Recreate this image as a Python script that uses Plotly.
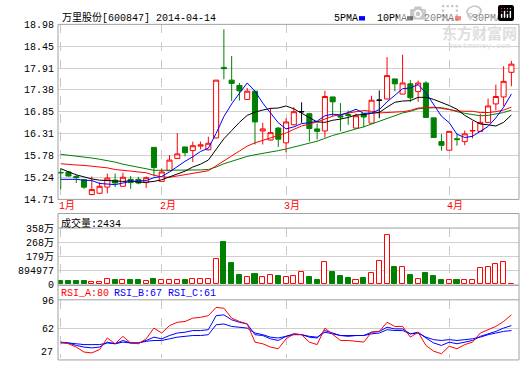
import plotly.graph_objects as go

W, H = 520, 365

# ---------------- data ----------------
idx = list(range(59))
month_idx = [0, 13, 29, 50]
month_lbl = ["1月", "2月", "3月", "4月"]

opens = [15.37, 15.38, 15.27, 15.19, 14.83, 14.86, 15.01, 15.18, 15.03, 15.20,
         15.20, 15.12, 15.98, 15.15, 15.41, 15.71, 15.99, 15.90, 16.01, 15.92,
         16.21, 17.93, 17.62, 17.49, 17.15, 17.35, 16.38, 16.16, 16.45, 16.09,
         16.53, 16.85, 16.80, 16.43, 16.38, 17.21, 16.75, 16.78, 16.45, 16.80,
         16.57, 17.13, 17.16, 17.65, 17.28, 17.53, 17.34, 17.55, 16.70, 16.12,
         15.91, 16.19, 16.12, 16.38, 16.37, 16.59, 17.04, 17.21, 17.81]
highs = [15.46, 15.40, 15.31, 15.21, 15.27, 15.13, 15.34, 15.34, 15.36, 15.28,
         15.26, 15.27, 15.98, 15.46, 15.79, 16.33, 15.99, 16.12, 16.12, 16.24,
         17.62, 18.86, 18.21, 17.55, 17.43, 17.36, 16.58, 16.94, 16.48, 16.69,
         16.96, 17.08, 16.82, 16.56, 17.36, 17.21, 17.06, 16.88, 16.80, 16.80,
         17.24, 17.37, 18.18, 17.65, 18.24, 17.62, 17.61, 17.59, 16.70, 16.31,
         16.37, 16.31, 16.39, 16.62, 16.80, 17.17, 17.51, 17.96, 18.09]
lows = [14.96, 15.27, 15.11, 14.97, 14.81, 14.85, 14.86, 15.01, 15.03, 14.97,
        15.08, 14.99, 15.27, 15.14, 15.41, 15.71, 15.76, 15.62, 15.93, 15.91,
        16.20, 17.64, 17.11, 17.12, 17.14, 16.05, 16.05, 16.15, 15.99, 15.86,
        16.52, 16.58, 16.12, 16.17, 16.22, 16.73, 16.37, 16.53, 16.44, 16.47,
        16.57, 16.69, 17.15, 17.35, 17.27, 17.09, 17.09, 16.70, 16.22, 15.90,
        15.90, 16.02, 16.03, 16.20, 16.36, 16.58, 16.88, 16.99, 17.47]
closes = [15.36, 15.28, 15.24, 15.01, 14.95, 15.03, 15.23, 15.11, 15.25, 15.12,
          15.11, 15.24, 15.49, 15.38, 15.67, 15.82, 15.85, 16.02, 16.04, 16.08,
          17.62, 17.90, 17.54, 17.36, 17.35, 16.60, 16.43, 16.34, 16.18, 16.60,
          16.85, 16.85, 16.44, 16.37, 17.22, 17.09, 16.72, 16.76, 16.75, 16.72,
          17.13, 17.13, 17.73, 17.53, 17.55, 17.19, 17.55, 16.71, 16.22, 16.03,
          16.37, 16.17, 16.31, 16.39, 16.59, 16.99, 17.22, 17.59, 18.01]
# r = up (red hollow), g = down (green), k = unchanged (black)
kind = list("ggggrrrgrggrgrrrgrrrrgggrgrrgrrkggrgggrgrkrgrgrgggrgrrrrrrr")

ma5 = [15.20, 15.20, 15.20, 15.18, 15.17, 15.10, 15.09, 15.07, 15.11, 15.15,
       15.16, 15.17, 15.24, 15.27, 15.38, 15.52, 15.64, 15.75, 15.88, 15.96,
       16.32, 16.73, 17.04, 17.30, 17.55, 17.35, 17.06, 16.82, 16.58, 16.43,
       16.48, 16.56, 16.58, 16.62, 16.75, 16.79, 16.77, 16.83, 16.91, 16.81,
       16.82, 16.90, 17.09, 17.25, 17.41, 17.43, 17.51, 17.31, 17.04, 16.74,
       16.58, 16.30, 16.22, 16.25, 16.37, 16.49, 16.70, 16.96, 17.28]
ma10 = [15.46, 15.38, 15.31, 15.26, 15.21, 15.18, 15.17, 15.16, 15.15, 15.16,
        15.13, 15.13, 15.15, 15.19, 15.26, 15.34, 15.40, 15.50, 15.57, 15.67,
        15.92, 16.19, 16.39, 16.59, 16.76, 16.84, 16.89, 16.93, 16.94, 16.99,
        16.92, 16.81, 16.70, 16.60, 16.59, 16.64, 16.67, 16.71, 16.77, 16.78,
        16.81, 16.83, 16.96, 17.08, 17.11, 17.12, 17.20, 17.20, 17.15, 17.08,
        17.00, 16.91, 16.76, 16.65, 16.55, 16.53, 16.50, 16.59, 16.77]
ma20 = [15.58, 15.56, 15.55, 15.54, 15.52, 15.50, 15.48, 15.44, 15.42, 15.40,
        15.38, 15.36, 15.30, 15.26, 15.25, 15.28, 15.31, 15.34, 15.38, 15.41,
        15.53, 15.66, 15.77, 15.89, 16.01, 16.09, 16.15, 16.21, 16.26, 16.33,
        16.42, 16.50, 16.55, 16.60, 16.67, 16.74, 16.78, 16.82, 16.85, 16.88,
        16.86, 16.82, 16.83, 16.84, 16.85, 16.88, 16.94, 16.95, 16.96, 16.93,
        16.90, 16.87, 16.86, 16.86, 16.83, 16.83, 16.85, 16.89, 16.96]
ma30 = [15.81, 15.79, 15.77, 15.75, 15.72, 15.69, 15.66, 15.62, 15.57, 15.53,
        15.49, 15.45, 15.42, 15.42, 15.42, 15.42, 15.43, 15.43, 15.43, 15.44,
        15.50, 15.58, 15.64, 15.70, 15.76, 15.80, 15.83, 15.86, 15.90, 15.94,
        15.99, 16.04, 16.08, 16.13, 16.20, 16.27, 16.32, 16.38, 16.43, 16.48,
        16.55, 16.61, 16.68, 16.76, 16.82, 16.86, 16.92, 16.94, 16.95, 16.95,
        16.91, 16.85, 16.81, 16.78, 16.75, 16.76, 16.79, 16.83, 16.89]

volume = [200000, 200000, 200000, 200000, 160000, 160000, 320000, 260000, 290000, 240000,
          240000, 200000, 350000, 240000, 300000, 300000, 260000, 360000, 320000, 320000,
          1620000, 2670000, 1350000, 610000, 440000, 670000, 440000, 610000, 500000, 470000,
          550000, 810000, 440000, 300000, 1410000, 750000, 500000, 380000, 300000, 380000,
          710000, 1460000, 3140000, 1090000, 1090000, 610000, 330000, 730000, 500000, 300000,
          240000, 240000, 240000, 240000, 1010000, 1090000, 1270000, 1400000, 2434]

rsi_a = [46, 44, 40, 34, 33, 37, 51, 44, 53, 45, 44, 50, 63, 57, 66, 70, 71, 75, 76, 78,
         88, 87, 75, 71, 68, 46, 44, 40, 38, 50, 56, 55, 46, 43, 63, 55, 48, 48, 47, 46,
         58, 59, 70, 65, 65, 52, 58, 42, 35, 32, 41, 38, 43, 46, 57, 61, 65, 71, 79]
rsi_b = [46, 45, 42, 40, 39, 40, 46, 44, 48, 45, 45, 48, 52, 50, 54, 57, 58, 60, 60, 61,
         78, 79, 73, 70, 68, 55, 54, 50, 48, 53, 56, 55, 52, 51, 60, 57, 54, 53, 54, 54,
         58, 59, 64, 62, 62, 56, 58, 51, 45, 42, 46, 44, 46, 48, 53, 56, 59, 63, 66]
rsi_c = [45, 45, 44, 43, 43, 43, 45, 44, 46, 45, 45, 47, 48, 48, 50, 52, 53, 54, 54, 55,
         67, 68, 65, 64, 63, 57, 55, 52, 51, 53, 55, 55, 53, 52, 58, 56, 54, 54, 54, 54,
         56, 57, 61, 60, 60, 56, 57, 52, 49, 48, 49, 48, 49, 50, 52, 55, 57, 59, 60]

price_ticks = [14.71, 15.24, 15.78, 16.31, 16.85, 17.38, 17.91, 18.45, 18.98]
vol_ticks = [0, 894977, 1789954, 2684931, 3579908]
vol_tick_text = ["0", "894977", "179万", "268万", "358万"]
rsi_ticks = [62, 96]

title_text = "万里股份[600847] 2014-04-14"
vol_title = "成交量:2434"
rsi_titles = ["RSI_A:80", "RSI_B:67", "RSI_C:61"]
ma_names = ["5PMA", "10PMA", "20PMA", "30PMA"]

# ---------------- styling ----------------
RED = "#ff0000"
GREEN = "#008000"
BLUE = "#0000ff"
BLACK = "#000000"
GRID = "#d0d0d0"
FRAME = "#a0a0a0"
FONT = "Liberation Mono, Noto Sans CJK SC, monospace"


def px(x):
    return x / W


def py(y):
    return 1 - y / H


LEFT, RIGHT = 58, 519
XR = [-0.35, 58.98]

fig = go.Figure()


def pick(lst, sel):
    return [lst[i] for i in sel]


groups = {
    "r": (RED, "white"),
    "g": (GREEN, GREEN),
    "k": (BLACK, BLACK),
}
for key, (lc, fc) in groups.items():
    sel = [i for i, k in enumerate(kind) if k == key]
    fig.add_trace(go.Candlestick(
        x=pick(idx, sel), open=pick(opens, sel), high=pick(highs, sel),
        low=pick(lows, sel), close=pick(closes, sel),
        increasing=dict(line=dict(color=lc, width=1), fillcolor=fc),
        decreasing=dict(line=dict(color=lc, width=1), fillcolor=fc),
        whiskerwidth=0, xaxis="x", yaxis="y", hoverinfo="skip"))

for vals, col in [(ma30, GREEN), (ma20, RED), (ma10, BLACK), (ma5, BLUE)]:
    fig.add_trace(go.Scatter(x=idx, y=vals, mode="lines",
                             line=dict(color=col, width=1),
                             xaxis="x", yaxis="y", hoverinfo="skip"))

vol_fill = [GREEN if k == "g" else "white" for k in kind]
vol_line = [GREEN if k == "g" else RED for k in kind]
fig.add_trace(go.Bar(x=idx, y=volume, width=0.65,
                     marker=dict(color=vol_fill, line=dict(color=vol_line, width=1)),
                     xaxis="x2", yaxis="y2", hoverinfo="skip"))

for vals, col in [(rsi_c, BLUE), (rsi_b, BLUE), (rsi_a, RED)]:
    fig.add_trace(go.Scatter(x=idx, y=vals, mode="lines",
                             line=dict(color=col, width=1),
                             xaxis="x3", yaxis="y3", hoverinfo="skip"))

xcommon = dict(range=XR, domain=[px(LEFT), px(RIGHT)], tickvals=month_idx,
               showticklabels=False, showgrid=True, gridcolor="#c8c8c8",
               griddash="dash", gridwidth=1, zeroline=False, showline=False,
               ticks="", fixedrange=True)
ycommon = dict(showgrid=True, gridcolor=GRID, gridwidth=1, zeroline=False,
               showline=False, ticks="", fixedrange=True,
               tickfont=dict(family=FONT, size=10, color="black"),
               ticklabelstandoff=3)

fig.update_layout(
    width=W, height=H, margin=dict(l=0, r=0, t=0, b=0),
    paper_bgcolor="white", plot_bgcolor="white", showlegend=False,
    boxgap=0.35, boxgroupgap=0.0, bargap=0,
    xaxis=dict(xcommon, anchor="y", rangeslider=dict(visible=False)),
    xaxis2=dict(xcommon, anchor="y2"),
    xaxis3=dict(xcommon, anchor="y3"),
    yaxis=dict(ycommon, domain=[py(201.5), py(21)], range=[14.71, 18.98],
               tickvals=price_ticks, ticktext=["%.2f" % v for v in price_ticks]),
    yaxis2=dict(ycommon, domain=[py(289), py(231)], range=[0, 3579908],
                tickvals=vol_ticks, ticktext=vol_tick_text),
    yaxis3=dict(ycommon, domain=[0, py(305)], range=[26.8, 97.2],
                tickvals=rsi_ticks, ticktext=[str(v) for v in rsi_ticks]),
)

shapes = []


def rect(x0, y0, x1, y1, color=FRAME):
    shapes.append(dict(type="rect", xref="paper", yref="paper",
                       x0=px(x0), x1=px(x1), y0=py(y1), y1=py(y0),
                       line=dict(color=color, width=1), fillcolor="rgba(0,0,0,0)"))


def hline(y, x0=LEFT, x1=RIGHT, color=FRAME):
    shapes.append(dict(type="line", xref="paper", yref="paper",
                       x0=px(x0), x1=px(x1), y0=py(y), y1=py(y),
                       line=dict(color=color, width=1)))


rect(LEFT, 21, RIGHT, 201.5)
rect(LEFT, 216, RIGHT, 290)
rect(LEFT, 290, RIGHT, 367)
hline(231)
hline(305)

# legend swatches
sw = [(359, BLUE), (407, BLACK), (455, RED), (503, GREEN)]
for x0, col in sw:
    shapes.append(dict(type="rect", xref="paper", yref="paper",
                       x0=px(x0), x1=px(x0 + 6), y0=py(17), y1=py(12.5),
                       line=dict(width=0), fillcolor=col))
fig.update_layout(shapes=shapes)

ann = []


def text(x, y, s, color="black", size=10, anchor="left", **kw):
    ann.append(dict(x=px(x), y=py(y), xref="paper", yref="paper", text=s,
                    showarrow=False, xanchor=anchor, yanchor="middle",
                    font=dict(family=FONT, size=size, color=color), **kw))


# watermark first (drawn beneath other texts)
text(479, 31, "<b>东方财富网</b>", color="#dedede", size=15, anchor="center")
text(479, 43, "eastmoney.com", color="#dedede", size=8, anchor="center")

text(60, 14, title_text)
for x0, name in zip([332, 375, 422, 470], ma_names):
    text(x0, 14.5, name)
text(59, 226, vol_title)
for x0, s, c in zip([59, 112, 166], rsi_titles, [RED, BLUE, BLUE]):
    text(x0, 299, s, color=c)
text(55, 359, "27", anchor="right")

for m, lbl in zip(month_idx, month_lbl):
    ann.append(dict(x=m, y=py(208), xref="x", yref="paper", text=lbl,
                    showarrow=False, xanchor="left", yanchor="middle", xshift=-4,
                    font=dict(family=FONT, size=10, color=RED)))

fig.update_layout(annotations=ann)

fig.write_html("out.html",
               post_script="document.body.style.margin='0';document.body.style.overflow='hidden';")
